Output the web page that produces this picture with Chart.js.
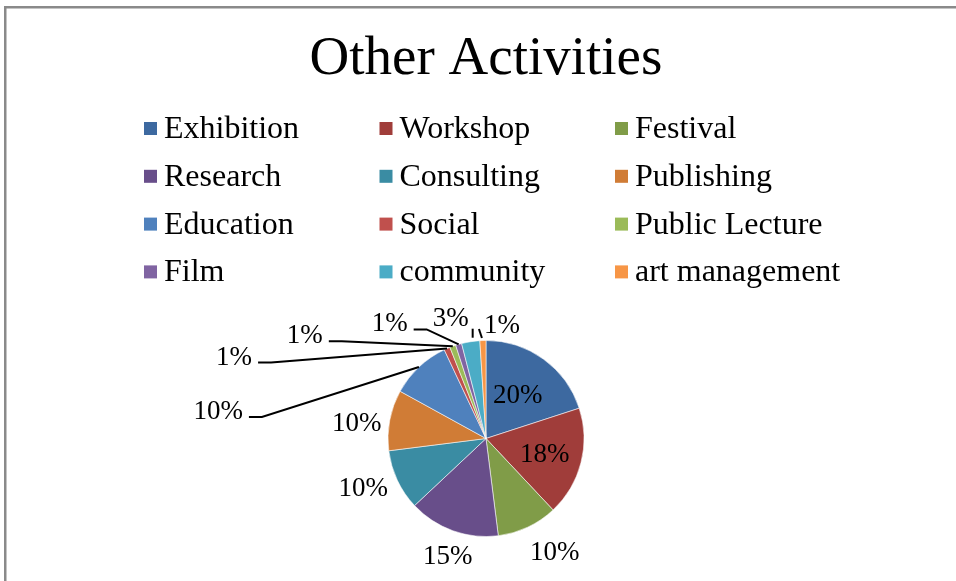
<!DOCTYPE html>
<html>
<head>
<meta charset="utf-8">
<script src="https://cdn.jsdelivr.net/npm/chart.js@4/dist/chart.umd.min.js"></script>
<style>
  html, body { margin: 0; padding: 0; background: #fff; }
  #wrap { position: relative; width: 956px; height: 581px; }
  canvas { display: block; }
</style>
</head>
<body>
<div id="wrap"><canvas id="c" width="956" height="581"></canvas></div>
<script>
// ---- data ----
const chartTitle = 'Other Activities';
const categories = ['Exhibition', 'Workshop', 'Festival', 'Research', 'Consulting', 'Publishing',
                    'Education', 'Social', 'Public Lecture', 'Film', 'community', 'art management'];
const shares = [20, 18, 10, 15, 10, 10, 10, 1, 1, 1, 3, 1];

// ---- styles ----
const sliceColors = ['#3D69A0', '#A03D3A', '#809C48', '#684E8A', '#3A8CA3', '#D07C36',
                     '#4F81BD', '#C0504D', '#9BBB59', '#8064A2', '#4BACC6', '#F79646'];
const serif = '"Liberation Serif", "DejaVu Serif", serif';

// label placement relative to each slice's geometry (annotation layout, not data)
const labelPlacement = [
  {type: 'in', f: 0.55},
  {type: 'in', f: 0.62},
  {type: 'out', dx: 27, dy: 25},
  {type: 'out', dx: -5, dy: 25},
  {type: 'out', dx: -34, dy: 8},
  {type: 'out', dx: -33, dy: 3},
  {type: 'leader', ex: -157, ey: 50},
  {type: 'leader', ex: -176, ey: 14},
  {type: 'leader', ex: -111, ey: -5},
  {type: 'leader', ex: -32, ey: -15},
  {type: 'tick', a: [2, -4], b: [2, -13], lx: -20, ly: -24},
  {type: 'tick', a: [-1, -2.5], b: [-4, -11.5], lx: 19, ly: -16}
];

const framePlugin = {
  id: 'frame',
  beforeDraw(chart) {
    const ctx = chart.ctx;
    ctx.save();
    ctx.fillStyle = '#fff';
    ctx.fillRect(0, 0, chart.width, chart.height);
    ctx.fillStyle = '#8a8a8a';
    ctx.fillRect(4, 6, chart.width - 4, 2.5);
    ctx.fillRect(4, 6, 2.5, chart.height - 6);
    ctx.restore();
  }
};

const gridLegendPlugin = {
  id: 'gridLegend',
  afterDraw(chart) {
    const ctx = chart.ctx;
    const cols = 3, x0 = 144, colW = 235.5, y0 = 128.5, rowH = 47.8, box = 13;
    ctx.save();
    ctx.font = '32px ' + serif;
    ctx.textBaseline = 'middle';
    ctx.textAlign = 'left';
    categories.forEach((name, i) => {
      const c = i % cols, r = Math.floor(i / cols);
      const x = x0 + c * colW, y = y0 + r * rowH;
      ctx.fillStyle = sliceColors[i];
      ctx.fillRect(x, y - box / 2, box, box);
      ctx.fillStyle = '#000';
      ctx.fillText(name, x + box + 7, y + 1);
    });
    ctx.restore();
  }
};

const sliceLabelPlugin = {
  id: 'sliceLabels',
  afterDatasetsDraw(chart) {
    const ctx = chart.ctx;
    const meta = chart.getDatasetMeta(0);
    const vals = chart.data.datasets[0].data;
    const total = vals.reduce((a, b) => a + b, 0);
    ctx.save();
    ctx.font = '27px ' + serif;
    ctx.fillStyle = '#000';
    ctx.strokeStyle = '#000';
    ctx.lineWidth = 2;
    ctx.textBaseline = 'middle';
    meta.data.forEach((arc, i) => {
      const p = arc.getProps(['x', 'y', 'startAngle', 'endAngle', 'outerRadius'], true);
      const mid = (p.startAngle + p.endAngle) / 2;
      const ux = Math.cos(mid), uy = Math.sin(mid);
      const px = p.x + ux * p.outerRadius, py = p.y + uy * p.outerRadius;
      const text = Math.round(vals[i] / total * 100) + '%';
      const s = labelPlacement[i];
      if (s.type === 'in') {
        ctx.textAlign = 'center';
        ctx.fillText(text, p.x + ux * p.outerRadius * s.f, p.y + uy * p.outerRadius * s.f + 1);
      } else if (s.type === 'out') {
        ctx.textAlign = 'center';
        ctx.fillText(text, px + s.dx, py + s.dy + 1);
      } else if (s.type === 'leader') {
        const ex = px + s.ex, ey = py + s.ey;
        ctx.beginPath();
        ctx.moveTo(px, py);
        ctx.lineTo(ex, ey);
        ctx.lineTo(ex - 13, ey);
        ctx.stroke();
        ctx.textAlign = 'right';
        ctx.fillText(text, ex - 19, ey - 5);
      } else if (s.type === 'tick') {
        ctx.beginPath();
        ctx.moveTo(px + s.a[0], py + s.a[1]);
        ctx.lineTo(px + s.b[0], py + s.b[1]);
        ctx.stroke();
        ctx.textAlign = 'center';
        ctx.fillText(text, px + s.lx, py + s.ly + 1);
      }
    });
    ctx.restore();
  }
};

new Chart(document.getElementById('c'), {
  type: 'pie',
  data: {
    labels: categories,
    datasets: [{
      data: shares,
      backgroundColor: sliceColors,
      borderColor: 'rgba(255,255,255,0.55)',
      borderWidth: 1
    }]
  },
  options: {
    responsive: false,
    animation: false,
    events: [],
    layout: { padding: { left: 300, right: 284, top: 0, bottom: 44 } },
    plugins: {
      legend: { display: false },
      tooltip: { enabled: false },
      title: {
        display: true,
        text: chartTitle,
        color: '#000',
        font: { family: serif, size: 55, weight: 'normal', lineHeight: 1.2 },
        padding: { top: 27, bottom: 247 }
      }
    }
  },
  plugins: [framePlugin, gridLegendPlugin, sliceLabelPlugin]
});
</script>
</body>
</html>
